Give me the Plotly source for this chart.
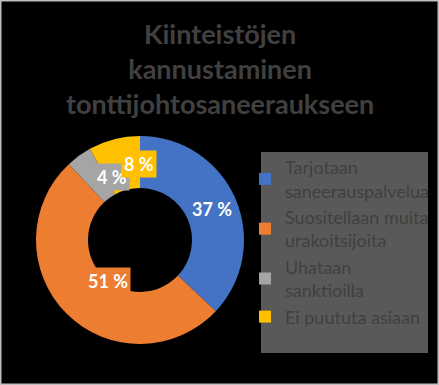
import math
import plotly.graph_objects as go

# ---- data ----
labels = ["Tarjotaan<br>saneerauspalvelua", "Suositellaan muita<br>urakoitsijoita",
          "Uhataan<br>sanktioilla", "Ei puututa asiaan"]
values = [37, 51, 4, 8]
colors = ["#4472C4", "#ED7D31", "#A5A5A5", "#FFC000"]
title_lines = ["Kiinteistöjen", "kannustaminen", "tonttijohtosaneeraukseen"]

W, H = 439, 385
# donut geometry (pixels)
cx, cy, R = 140, 240, 104
hole = 0.5

fig = go.Figure()
fig.add_trace(go.Pie(
    labels=labels, values=values, sort=False, direction="clockwise", rotation=0,
    hole=hole, textinfo="none", hoverinfo="label+percent",
    marker=dict(colors=colors, line=dict(width=0)),
    domain=dict(x=[(cx - R) / W, (cx + R) / W], y=[1 - (cy + R) / H, 1 - (cy - R) / H]),
))

# data labels at the middle of each slice
total = sum(values)
r_lab = R * (1 + hole) / 2
annotations = []
cum = 0
for v, c in zip(values, colors):
    mid = (cum + v / 2) / total * 2 * math.pi
    cum += v
    px = cx + r_lab * math.sin(mid)
    py = cy - r_lab * math.cos(mid)
    annotations.append(dict(
        x=px / W, y=1 - py / H, xref="paper", yref="paper",
        text=f"<b>{round(v / total * 100)} %</b>", showarrow=False,
        font=dict(family="Lato", size=18, color="white"),
        bgcolor=c, borderpad=2,
    ))

# title
annotations.append(dict(
    x=0.5, y=1 - 15.5 / H, xref="paper", yref="paper", xanchor="center", yanchor="top",
    text="<b>" + "<br>".join(title_lines) + "</b>", showarrow=False,
    font=dict(family="Lato", size=27, color="#404040"),
))

fig.update_layout(
    width=W, height=H,
    paper_bgcolor="black", plot_bgcolor="black",
    margin=dict(l=0, r=0, t=0, b=0),
    showlegend=True,
    legend=dict(x=245 / W, xanchor="left", y=1 - 149 / H, yanchor="top",
                bgcolor="rgba(0,0,0,0)",
                font=dict(family="Lato", size=18, color="#404040"),
                itemclick=False, itemdoubleclick=False),
    shapes=[
        dict(type="rect", xref="paper", yref="paper", layer="below",
             x0=261 / W, x1=428 / W, y0=1 - 353 / H, y1=1 - 152 / H,
             fillcolor="#595959", line=dict(width=0)),
        dict(type="rect", xref="paper", yref="paper",
             x0=0, x1=1, y0=0, y1=1, line=dict(color="#BFBFBF", width=3)),
    ],
    annotations=annotations,
)

fig.write_html("out.html", config={"displayModeBar": False},
               post_script="document.body.style.margin='0';document.body.style.overflow='hidden';")
